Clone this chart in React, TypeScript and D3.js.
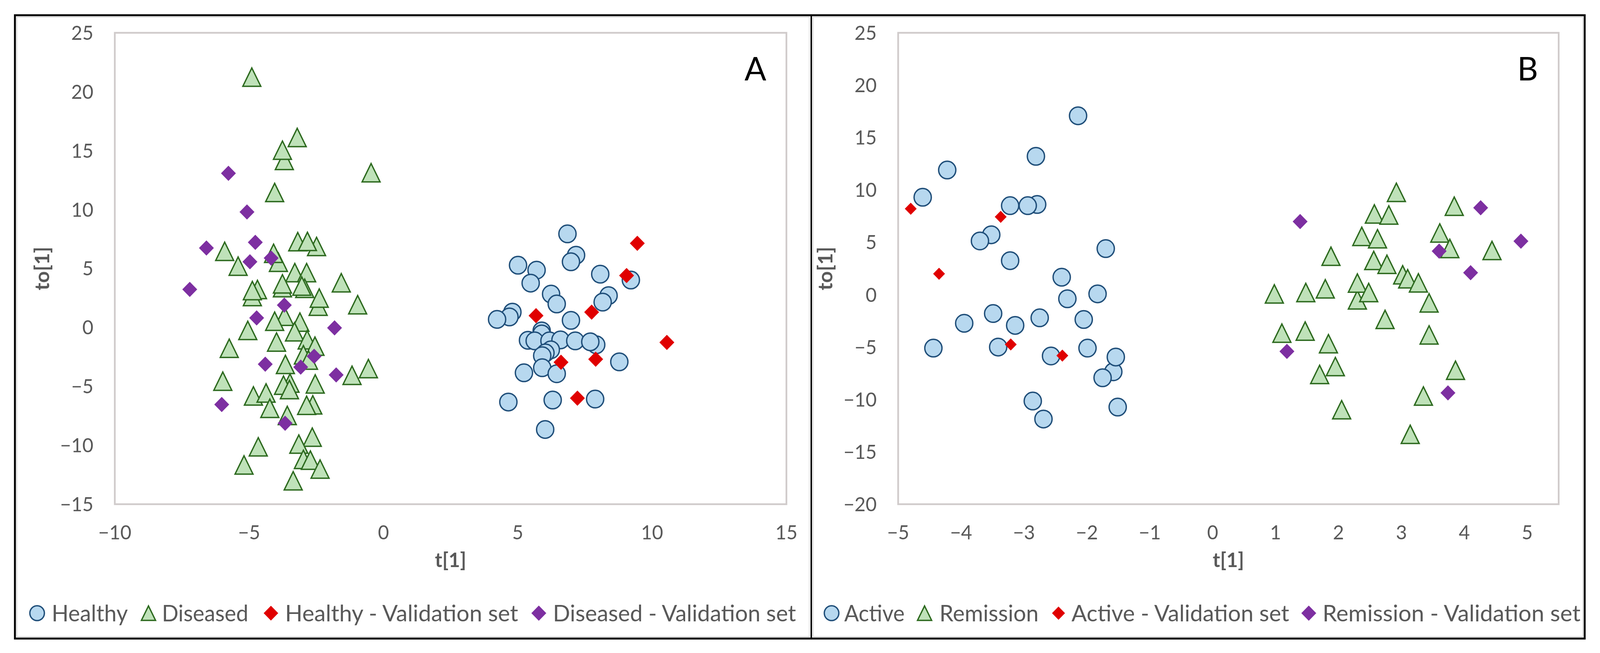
import React from 'react';
import * as d3 from 'd3';

// ---- panel A : Healthy vs Diseased ----
const healthyA: [number, number][] = [
  [6.85, 7.94], [7.17, 6.13], [6.98, 5.57], [5.01, 5.28], [5.7, 4.86], [5.48, 3.76],
  [8.07, 4.52], [9.21, 4.02], [6.24, 2.83], [6.45, 1.99], [8.38, 2.7], [8.16, 2.15],
  [4.8, 1.3], [4.69, 0.89], [4.23, 0.68], [6.98, 0.6], [5.89, -0.29], [5.89, -0.55],
  [5.38, -1.09], [5.63, -1.14], [6.18, -1.14], [6.59, -1.06], [7.14, -1.14], [7.92, -1.47],
  [7.7, -1.22], [6.23, -1.9], [6.03, -2.16], [5.91, -2.4], [5.91, -3.42], [5.23, -3.85],
  [6.45, -3.93], [8.78, -2.92], [4.65, -6.33], [6.3, -6.16], [7.88, -6.08], [6.02, -8.66],
];
const diseasedA: [number, number][] = [
  [-4.9, 21.24], [-3.21, 16.12], [-3.69, 14.17], [-3.76, 15.04], [-0.46, 13.13], [-4.05, 11.45],
  [-3.19, 7.28], [-2.49, 6.87], [-2.83, 7.3], [-5.91, 6.46], [-5.41, 5.2], [-3.91, 5.53],
  [-4.09, 6.29], [-3.3, 4.65], [-2.86, 4.65], [-4.88, 2.62], [-4.69, 3.22], [-4.88, 3.13],
  [-3.76, 3.38], [-3.76, 3.7], [-2.93, 3.32], [-3.04, 3.51], [-1.57, 3.79], [-2.43, 1.8],
  [-2.39, 2.49], [-0.96, 1.93], [-3.68, 0.95], [-4.05, 0.53], [-3.11, 0.45], [-5.05, -0.25],
  [-3.31, -0.37], [-2.84, -1.05], [-3.98, -1.24], [-2.55, -1.59], [-2.98, -2.32], [-2.79, -2.77],
  [-5.74, -1.77], [-3.65, -3.14], [-3.48, -4.72], [-3.72, -4.9], [-3.5, -5.27], [-5.98, -4.56],
  [-2.54, -4.79], [-4.84, -5.81], [-4.37, -5.56], [-4.23, -6.86], [-2.63, -6.57], [-2.86, -6.61],
  [-3.58, -7.47], [-2.65, -9.31], [-3.15, -9.9], [-4.66, -10.13], [-2.98, -11.2], [-2.72, -11.26],
  [-2.36, -12.02], [-5.19, -11.67], [-3.36, -13.01], [-1.17, -4.06], [-0.56, -3.49],
];
const healthyValA: [number, number][] = [
  [9.45, 7.14], [9.05, 4.4], [5.68, 1.0], [7.75, 1.3], [10.55, -1.27], [6.61, -2.95], [7.9, -2.7], [7.22, -6.0],
];
const diseasedValA: [number, number][] = [
  [-5.77, 13.08], [-5.08, 9.8], [-6.59, 6.74], [-4.77, 7.22], [-4.97, 5.57], [-4.18, 5.89],
  [-7.21, 3.23], [-3.69, 1.89], [-4.72, 0.81], [-1.82, -0.04], [-4.4, -3.12], [-2.58, -2.45],
  [-3.08, -3.37], [-1.76, -4.03], [-6.02, -6.54], [-3.66, -8.13],
];

// ---- panel B : Active vs Remission ----
const activeB: [number, number][] = [
  [-2.14, 17.08], [-2.81, 13.21], [-4.22, 11.9], [-4.61, 9.3], [-3.22, 8.5], [-2.79, 8.61],
  [-2.94, 8.5], [-3.52, 5.72], [-3.7, 5.13], [-1.7, 4.4], [-3.22, 3.25], [-2.4, 1.67],
  [-1.83, 0.08], [-2.31, -0.39], [-3.49, -1.8], [-2.75, -2.21], [-3.95, -2.73], [-3.14, -2.93],
  [-2.05, -2.37], [-4.44, -5.1], [-3.41, -5.0], [-1.99, -5.1], [-2.57, -5.85], [-1.58, -7.36],
  [-1.54, -5.95], [-1.75, -7.93], [-2.86, -10.15], [-1.51, -10.73], [-2.69, -11.87],
];
const remissionB: [number, number][] = [
  [2.92, 9.77], [2.57, 7.71], [2.8, 7.61], [3.84, 8.45], [2.37, 5.57], [2.62, 5.34],
  [3.61, 5.89], [3.77, 4.41], [4.44, 4.22], [1.88, 3.67], [2.56, 3.27], [2.77, 2.9],
  [3.02, 1.9], [3.1, 1.52], [3.27, 1.13], [2.3, -0.49], [2.3, 1.11], [2.48, 0.21],
  [0.98, 0.08], [1.48, 0.21], [1.79, 0.56], [3.44, -0.78], [2.74, -2.36], [3.44, -3.84],
  [1.1, -3.67], [1.47, -3.47], [1.84, -4.68], [1.7, -7.61], [1.95, -6.86], [3.86, -7.21],
  [3.35, -9.67], [2.05, -10.98], [3.14, -13.33],
];
const activeValB: [number, number][] = [
  [-4.8, 8.2], [-3.37, 7.43], [-4.35, 2.0], [-3.21, -4.75], [-2.39, -5.81],
];
const remissionValB: [number, number][] = [
  [1.39, 6.98], [4.26, 8.3], [4.9, 5.11], [3.6, 4.16], [4.1, 2.1], [1.18, -5.41], [3.74, -9.37],
];

const xTicksA = [-10, -5, 0, 5, 10, 15];
const yTicksA = [-15, -10, -5, 0, 5, 10, 15, 20, 25];
const xTicksB = [-5, -4, -3, -2, -1, 0, 1, 2, 3, 4, 5];
const yTicksB = [-20, -15, -10, -5, 0, 5, 10, 15, 20, 25];

const labelsA = ['Healthy', 'Diseased', 'Healthy - Validation set', 'Diseased - Validation set'];
const labelsB = ['Active', 'Remission', 'Active - Validation set', 'Remission - Validation set'];

const W = 4181;
const H = 1672;
const FONT = 'Lato, "Open Sans", sans-serif';
const GREY = '#595959';

type Shape = 'circle' | 'triangle' | 'diamond';
interface Style { shape: Shape; fill: string; stroke?: string; size: number; legendSize: number }

const circleStyle: Style = { shape: 'circle', fill: '#b7d8ef', stroke: '#1f4e79', size: 45, legendSize: 38 };
const triStyle: Style = { shape: 'triangle', fill: '#bfe2b9', stroke: '#2d6a1f', size: 47, legendSize: 37 };
const redStyle = (s: number, l: number): Style => ({ shape: 'diamond', fill: '#e00000', size: s, legendSize: l });
const purpleStyle: Style = { shape: 'diamond', fill: '#7d2fa1', size: 39, legendSize: 39 };

function Marker({ st, x, y, legend }: { st: Style; x: number; y: number; legend?: boolean }) {
  const s = legend ? st.legendSize : st.size;
  if (st.shape === 'circle') {
    return <circle cx={x} cy={y} r={s / 2} fill={st.fill} stroke={st.stroke} strokeWidth={3.5} />;
  }
  if (st.shape === 'triangle') {
    const d = `M${x},${y - s / 2}L${x + s / 2},${y + s / 2}L${x - s / 2},${y + s / 2}Z`;
    return <path d={d} fill={st.fill} stroke={st.stroke} strokeWidth={3.5} />;
  }
  const d = `M${x},${y - s / 2}L${x + s / 2},${y}L${x},${y + s / 2}L${x - s / 2},${y}Z`;
  return <path d={d} fill={st.fill} />;
}

interface Slot { mx: number; tx: number; tw: number }
const legendSlotsA: Slot[] = [
  { mx: 97, tx: 135, tw: 199 }, { mx: 388, tx: 423, tw: 226 },
  { mx: 708, tx: 745, tw: 609 }, { mx: 1408, tx: 1445, tw: 635 },
];
const legendSlotsB: Slot[] = [
  { mx: 2173, tx: 2206, tw: 158 }, { mx: 2416, tx: 2455, tw: 259 },
  { mx: 2766, tx: 2800, tw: 569 }, { mx: 3420, tx: 3456, tw: 674 },
];

interface PanelProps {
  x0: number; x1: number;
  left: number; right: number;
  xDomain: [number, number]; yDomain: [number, number];
  xTicks: number[]; yTicks: number[];
  series: { data: [number, number][]; st: Style }[];
  labels: string[];
  slots: Slot[];
  letter: string;
}

const TOP = 84;
const BOTTOM = 1291;
const fmt = d3.format('d');

function Panel(p: PanelProps) {
  const x = d3.scaleLinear().domain(p.xDomain).range([p.left, p.right]);
  const y = d3.scaleLinear().domain(p.yDomain).range([BOTTOM, TOP]);
  const legendY = 1570;

  return (
    <g>
      <rect x={p.x0 + 5} y={44} width={p.x1 - p.x0 - 10} height={1586} fill="none" stroke="#d9d9d9" strokeWidth={2} />
      <rect x={p.left} y={TOP} width={p.right - p.left} height={BOTTOM - TOP} fill="#fff" stroke="#d0cbcb" strokeWidth={4.5} />

      {p.yTicks.map((v) => (
        <text key={`y${v}`} x={p.left - 56} y={y(v)} dy="0.36em" textAnchor="end"
          fontFamily={FONT} fontSize={50} fill={GREY}>{fmt(v)}</text>
      ))}
      {p.xTicks.map((v) => (
        <text key={`x${v}`} x={x(v)} y={BOTTOM + 72} dy="0.36em" textAnchor="middle"
          fontFamily={FONT} fontSize={50} fill={GREY}>{fmt(v)}</text>
      ))}

      <text x={(p.left + p.right) / 2} y={1433} dy="0.36em" textAnchor="middle"
        fontFamily={FONT} fontSize={52} fontWeight="bold" fill={GREY}>t[1]</text>
      <text transform={`translate(${p.left - 190},${(TOP + BOTTOM) / 2}) rotate(-90)`} dy="0.36em"
        textAnchor="middle" fontFamily={FONT} fontSize={52} fontWeight="bold" fill={GREY}>to[1]</text>

      {p.series.map((s, si) => (
        <g key={si}>
          {s.data.map(([a, b], i) => (
            <Marker key={i} st={s.st} x={x(a)} y={y(b)} />
          ))}
        </g>
      ))}

      <text x={p.right - 81} y={176} dy="0.36em" textAnchor="middle" fontFamily={FONT} fontSize={84} fill="#000">
        {p.letter}
      </text>

      {p.slots.map((sl, i) => (
        <g key={i}>
          <Marker st={p.series[i].st} x={sl.mx} y={legendY} legend />
          <text x={sl.tx} y={legendY} dy="0.36em" fontFamily={FONT} fontSize={58} fill={GREY}
            textLength={sl.tw} lengthAdjust="spacingAndGlyphs">{p.labels[i]}</text>
        </g>
      ))}
    </g>
  );
}

export default function App() {
  return (
    <div style={{ position: 'fixed', left: 0, top: 0, width: '100vw', height: '100vh', background: '#fff', overflow: 'hidden' }}>
      <svg width="100%" height="100%" viewBox={`0 0 ${W} ${H}`} preserveAspectRatio="none" style={{ display: 'block' }}>
        <rect width={W} height={H} fill="#fff" />
        <Panel
          x0={39} x1={2120} left={300} right={2055}
          xDomain={[-10, 15]} yDomain={[-15, 25]}
          xTicks={xTicksA} yTicks={yTicksA}
          series={[
            { data: healthyA, st: circleStyle },
            { data: diseasedA, st: triStyle },
            { data: healthyValA, st: redStyle(39, 38) },
            { data: diseasedValA, st: purpleStyle },
          ]}
          labels={labelsA}
          slots={legendSlotsA}
          letter="A"
        />
        <Panel
          x0={2120} x1={4141} left={2347} right={4073}
          xDomain={[-5, 5.5]} yDomain={[-20, 25]}
          xTicks={xTicksB} yTicks={yTicksB}
          series={[
            { data: activeB, st: circleStyle },
            { data: remissionB, st: triStyle },
            { data: activeValB, st: redStyle(31, 34) },
            { data: remissionValB, st: purpleStyle },
          ]}
          labels={labelsB}
          slots={legendSlotsB}
          letter="B"
        />
        <rect x={39} y={39} width={4102} height={1596} fill="none" stroke="#000" strokeWidth={5} />
        <line x1={2120} x2={2120} y1={39} y2={1635} stroke="#000" strokeWidth={4} />
      </svg>
    </div>
  );
}
